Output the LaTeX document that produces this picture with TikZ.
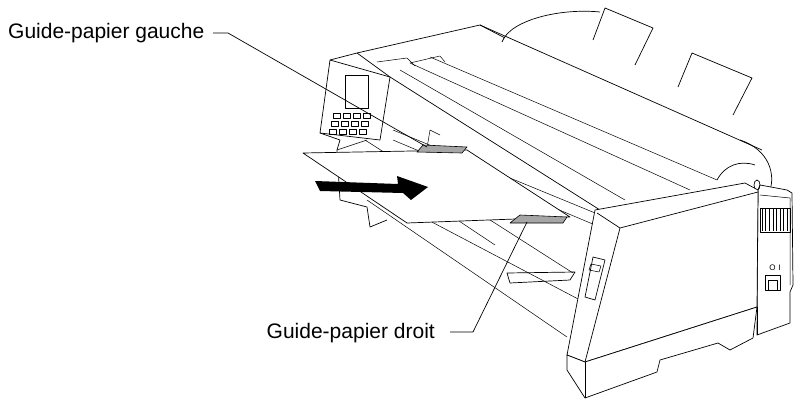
\documentclass[tikz,border=0pt]{standalone}
\usepackage{fontspec}
\setmainfont{Liberation Sans}
\begin{document}
\begin{tikzpicture}[x=1pt,y=-1pt,line join=round,
  ln/.style={draw=black,line width=0.7pt},
  thin/.style={draw=black,line width=0.5pt},
  guide/.style={draw=black,fill=black!35,line width=0.6pt},
  lbl/.style={font=\fontsize{21}{23}\selectfont,inner sep=0pt}]
\useasboundingbox (0,0) rectangle (803,404);
% paper supports
\draw[ln,fill=white] (593,40)--(605,8)--(653,28)--(635,65);
\draw[ln,fill=white] (678,87)--(692,53)--(752,78)--(733,115);
% cylinder/back
\draw[ln] (502,42) .. controls (510,20) and (560,8) .. (600,12);
\draw[ln] (740,140) .. controls (770,150) and (775,175) .. (770,190);
\draw[ln] (717,180) .. controls (725,165) and (740,160) .. (755,165);
% top cover
\draw[ln] (330,60)--(357,53)--(480,25)--(505,38);
\draw[ln] (480,25)--(762,150);
\draw[ln] (357,53)--(390,77);
\draw[ln] (390,77)--(600,210);
\draw[thin] (400,70)--(625,200);
\draw[thin] (410,63)--(690,190);
\draw[thin] (430,57)--(717,180);
\draw[thin] (377,62)--(407,58)--(415,66);
\draw[thin] (410,63)--(440,56)--(445,62);
\draw[thin] (495,245)--(435,205);
\draw[thin] (393,130)--(600,215);
\draw[thin] (393,140)--(595,225);
\draw[thin] (365,140)--(573,273);
\draw[thin] (390,200)--(580,300);
\draw[thin] (367,200)--(567,337);
\draw[thin] (427,148)--(430,130)--(440,135);
% control panel
\draw[ln,fill=white] (330,60)--(390,77)--(380,140)--(320,133)--cycle;
\draw[ln] (345,75) rectangle (368,108);
\foreach \i in {0,1,2} \foreach \j in {0,1,2,3}
  \draw[thin] (333+\j*10+\i*-2,113+\i*8) rectangle ++(7,5);
% left base
\draw[ln] (320,133)--(340,140)--(337,150)--(340,200)--(367,207)--(370,227)--(387,220);
\draw[thin] (337,150)--(367,140);
% paper
\draw[ln,fill=white] (303,153)--(467,150)--(570,217)--(407,223)--cycle;
\draw[guide] (417,152)--(423,145)--(467,147)--(462,153)--cycle;
\draw[guide] (510,223)--(520,215)--(567,217)--(563,223)--cycle;
% arrow
\fill (315,181)--(398,184)--(397,176)--(428,187)--(411,200)--(403,193)--(320,191)--cycle;
% lower tray
\draw[ln] (507,273)--(575,272)--(570,280)--(510,283)--cycle;
% right side block
\draw[ln,fill=white] (758,190)--(760,185)--(787,190)--(792,193)--(793,285)--(790,292)--(790,323)--(757,335)--cycle;
\draw[thin] (760,195)--(790,198)--(790,285);
\draw[ln] (760,208) rectangle (790,232);
\foreach \k in {0,...,7} \draw[thin] (762+\k*3.6,209)--(762+\k*3.6,231);
\draw[ln] (765,275) rectangle (780,290);
\draw[thin] (768,280) rectangle (777,290);
\node[font=\fontsize{8}{8}\selectfont,inner sep=0pt] (sw) at (775,268) {O\,\,I};
\draw[ln] (757,185) ellipse (3 and 5);
% right end panel
\draw[ln,fill=white] (595,210)--(745,183)--(758,190)--(757,307)--(585,362)--(567,355)--cycle;
\draw[ln] (597,213)--(620,228)--(758,192);
\draw[ln] (620,228)--(585,362);
% base
\draw[ln,fill=white] (567,355)--(567,370)--(585,398)--(657,372)--(660,360)--(718,343)--(730,350)--(753,338)--(757,307)--(585,362)--cycle;
\draw[thin] (585,362)--(585,398);
\draw[thin] (757,307)--(757,335);
% slot
\draw[ln] (593,257)--(605,260)--(595,300)--(585,297)--cycle;
\draw[thin] (591,264)--(601,266)--(599,272)--(589,270)--cycle;
% labels
\node[lbl,anchor=west] (g) at (8,33) {Guide-papier gauche};
\coordinate (gk) at (228,33);
\coordinate (gt) at (427,147);
\draw[ln] (213,33)--(gk)--(gt);
\node[lbl,anchor=east] (d) at (435,333) {Guide-papier droit};
\coordinate (dk) at (473,332);
\coordinate (dt) at (527,222);
\draw[ln] (450,332)--(dk)--(dt);
\end{tikzpicture}
\end{document}
